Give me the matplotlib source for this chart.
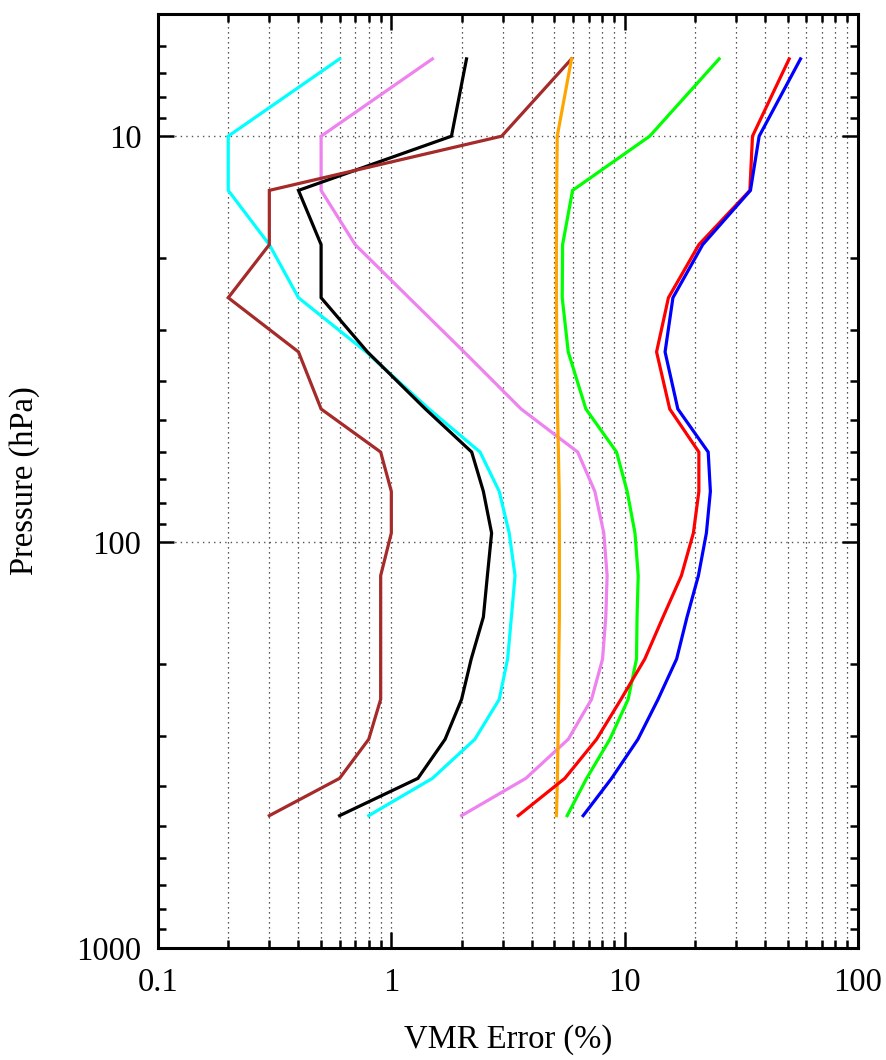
import matplotlib
matplotlib.use("Agg")
import matplotlib.pyplot as plt
from matplotlib.ticker import LogLocator, FuncFormatter, NullFormatter

# ---- data ----
pressure = [6.45, 10, 13.6, 18.5, 25, 34, 47, 60, 75, 95, 121, 153, 194, 244, 306, 382, 472]

cyan_err   = [0.60, 0.20, 0.20, 0.30, 0.40, 0.78, 1.45, 2.40, 2.90, 3.20, 3.39, 3.27, 3.15, 2.90, 2.28, 1.50, 0.80]
black_err  = [2.10, 1.81, 0.40, 0.50, 0.50, 0.79, 1.40, 2.21, 2.48, 2.69, 2.58, 2.48, 2.20, 2.00, 1.70, 1.30, 0.60]
violet_err = [1.50, 0.50, 0.50, 0.70, 1.19, 2.05, 3.60, 6.29, 7.45, 8.14, 8.41, 8.30, 8.04, 7.21, 5.73, 3.77, 2.00]
brown_err  = [5.92, 2.97, 0.30, 0.30, 0.20, 0.40, 0.50, 0.90, 1.00, 1.00, 0.90, 0.90, 0.90, 0.90, 0.80, 0.60, 0.30]
orange_err = [5.92, 5.14, 5.11, 5.10, 5.10, 5.12, 5.15, 5.20, 5.24, 5.25, 5.25, 5.25, 5.22, 5.21, 5.18, 5.15, 5.10]
green_err  = [25.4, 12.8, 5.98, 5.42, 5.40, 5.73, 6.82, 9.23, 10.25, 11.07, 11.43, 11.30, 11.24, 10.35, 8.64, 6.87, 5.67]
red_err    = [50.7, 35.3, 34.4, 20.8, 15.4, 13.7, 15.6, 20.8, 20.8, 19.7, 17.5, 14.6, 12.2, 9.64, 7.58, 5.54, 3.50]
blue_err   = [56.7, 37.7, 34.6, 21.6, 16.1, 14.9, 16.9, 22.8, 23.3, 22.4, 20.7, 18.5, 16.7, 13.9, 11.4, 8.79, 6.64]

series = [
    (cyan_err, "#00FFFF"),
    (violet_err, "#EE82EE"),
    (black_err, "#000000"),
    (brown_err, "#A52A2A"),
    (orange_err, "#FFA500"),
    (green_err, "#00FF00"),
    (red_err, "#FF0000"),
    (blue_err, "#0000FF"),
]

x_ticks = [0.1, 1, 10, 100]
y_ticks = [10, 100, 1000]
x_label = "VMR Error (%)"
y_label = "Pressure (hPa)"

# ---- figure ----
plt.rcParams["font.family"] = ["Liberation Serif", "DejaVu Serif"]
fig = plt.figure(figsize=(8.87, 10.6), dpi=100)
ax = fig.add_axes([158 / 887, 1 - 948 / 1060, 700 / 887, 934 / 1060])

for vals, col in series:
    ax.plot(vals, pressure, color=col, lw=2.3, solid_joinstyle="miter", zorder=3)

ax.set_xscale("log")
ax.set_yscale("log")
ax.set_xlim(0.1, 100)
ax.set_ylim(1000, 5.0)

ax.xaxis.set_major_locator(LogLocator(base=10, subs=(1.0,)))
ax.xaxis.set_minor_locator(LogLocator(base=10, subs=[2, 3, 4, 5, 6, 7, 8, 9]))
ax.yaxis.set_major_locator(LogLocator(base=10, subs=(1.0,)))
ax.yaxis.set_minor_locator(LogLocator(base=10, subs=[2, 3, 4, 5, 6, 7, 8, 9]))
ax.set_xticks(x_ticks)
ax.set_yticks(y_ticks)
fmt = FuncFormatter(lambda v, p: "%g" % v)
ax.xaxis.set_major_formatter(fmt)
ax.yaxis.set_major_formatter(fmt)
ax.xaxis.set_minor_formatter(NullFormatter())
ax.yaxis.set_minor_formatter(NullFormatter())

ax.tick_params(which="both", direction="in", top=True, right=True, labelsize=23.5, width=1.8)
ax.tick_params(which="major", length=11.5)
ax.tick_params(which="minor", length=6)
ax.tick_params(axis="x", which="major", pad=14)
ax.tick_params(axis="y", which="major", pad=12)

for s in ax.spines.values():
    s.set_linewidth(2.2)

ax.grid(True, axis="x", which="both", color="#222222", lw=0.9, ls=(0, (1, 3)), zorder=1)
ax.grid(True, axis="y", which="major", color="#555555", lw=1.0, ls=(0, (1, 3)), zorder=1)

ax.set_xlabel(x_label, fontsize=23.5)
ax.set_ylabel(y_label, fontsize=23.5)
ax.xaxis.set_label_coords(0.5, (948 - 1040) / 934)
ax.xaxis.label.set_va("center")
ax.yaxis.set_label_coords((25 - 158) / 700, 0.5)
ax.yaxis.label.set_va("center")

fig.savefig("out.png", dpi=100)
